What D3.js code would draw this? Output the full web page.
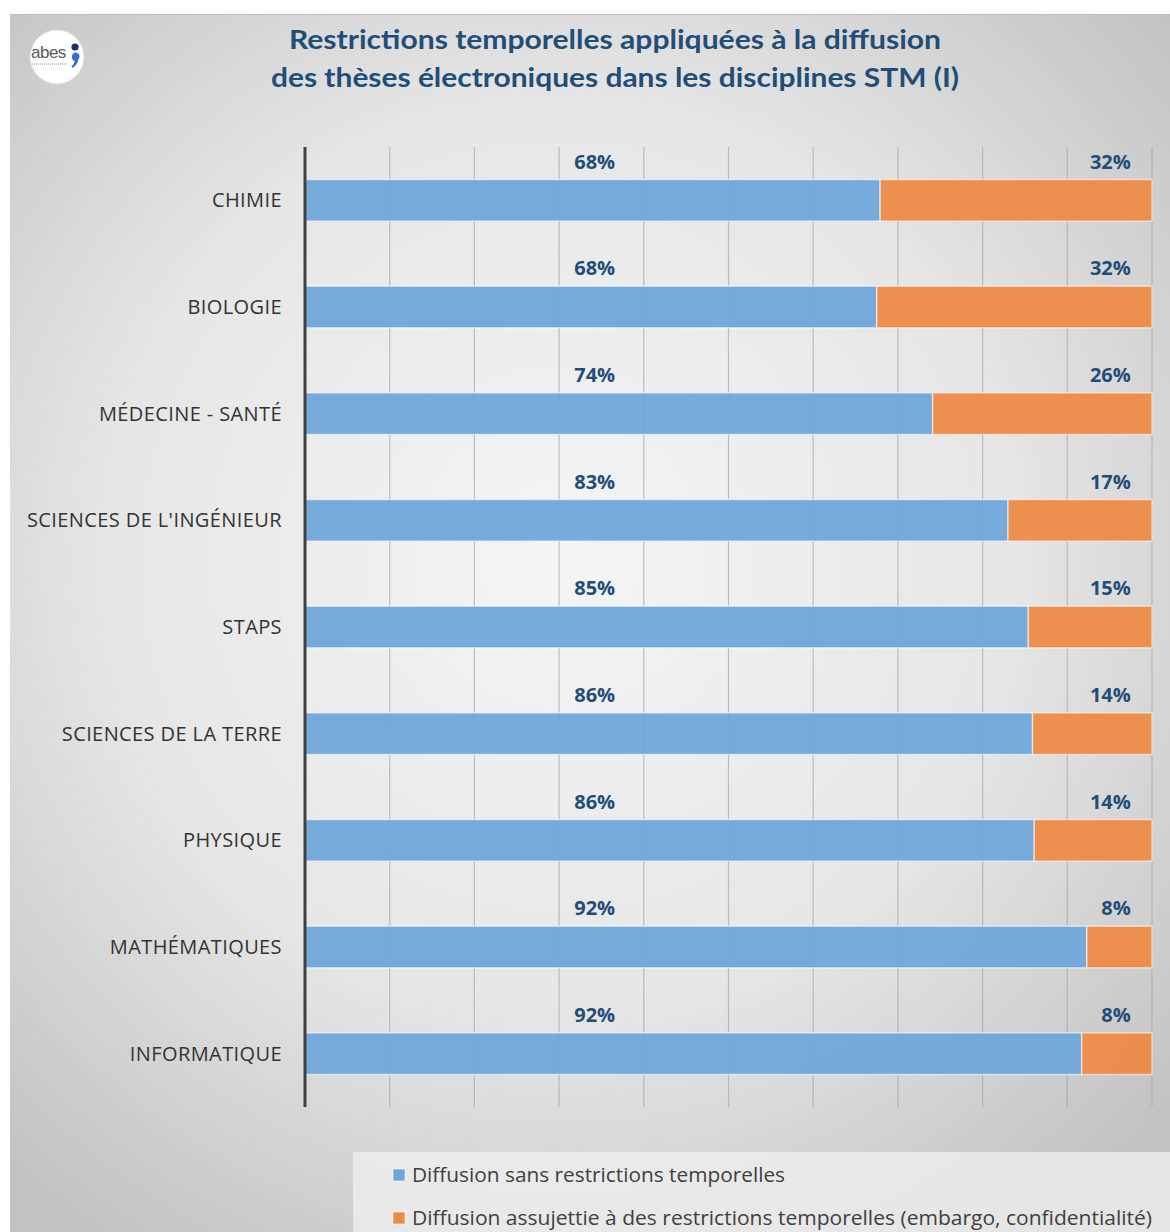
<!DOCTYPE html>
<html><head><meta charset="utf-8">
<script src="https://cdn.jsdelivr.net/npm/d3@7"></script>
<style>html,body{margin:0;padding:0;background:#fff;}svg{display:block;}</style>
</head><body>
<script>
const categories = ["CHIMIE","BIOLOGIE","MÉDECINE - SANTÉ","SCIENCES DE L'INGÉNIEUR","STAPS","SCIENCES DE LA TERRE","PHYSIQUE","MATHÉMATIQUES","INFORMATIQUE"];
const sansRestriction = [67.9, 67.5, 74.1, 83.0, 85.4, 85.9, 86.1, 92.3, 91.7];
const avecRestriction = [32.1, 32.5, 25.9, 17.0, 14.6, 14.1, 13.9, 7.7, 8.3];
const labelsSans = ["68%","68%","74%","83%","85%","86%","86%","92%","92%"];
const labelsAvec = ["32%","32%","26%","17%","15%","14%","14%","8%","8%"];
const seriesNames = ["Diffusion sans restrictions temporelles","Diffusion assujettie à des restrictions temporelles (embargo, confidentialité)"];
const xTicks = [0,10,20,30,40,50,60,70,80,90,100];
const titleLines = ["Restrictions temporelles appliquées à la diffusion","des thèses électroniques dans les disciplines STM (I)"];

const W = 1170, H = 1232;
const colors = ["#6fa6da","#ec8a47"];
const svg = d3.select("body").append("svg").attr("width",W).attr("height",H);
const defs = svg.append("defs");
const rg = defs.append("radialGradient").attr("id","bg").attr("gradientUnits","userSpaceOnUse")
  .attr("cx",560).attr("cy",560).attr("r",820);
rg.append("stop").attr("offset","0").attr("stop-color","#f5f5f5");
rg.append("stop").attr("offset","0.55").attr("stop-color","#e6e6e6");
rg.append("stop").attr("offset","1").attr("stop-color","#c2c2c2");

svg.append("rect").attr("x",10).attr("y",14).attr("width",W-10).attr("height",H-14).attr("fill","url(#bg)");
svg.append("line").attr("x1",10).attr("x2",W).attr("y1",14.5).attr("y2",14.5).attr("stroke","#bdbdbd").attr("stroke-width",1);

// logo
const logo = svg.append("g").attr("transform","translate(57,57)");
logo.append("circle").attr("r",27).attr("fill","#fff").attr("stroke","#e0e0e0").attr("stroke-width",1);
logo.append("text").attr("x",-26).attr("y",1).attr("font-family","Liberation Sans Narrow, Liberation Sans, sans-serif").attr("font-size",17).attr("fill","#5a5a5a").attr("letter-spacing",-0.5).text("abes");
logo.append("line").attr("x1",-25).attr("x2",10).attr("y1",7).attr("y2",7).attr("stroke","#bbb").attr("stroke-width",1.5).attr("stroke-dasharray","1,1");
logo.append("circle").attr("cx",18).attr("cy",-10).attr("r",3.6).attr("fill","#1c2f6b");
logo.append("path").attr("d","M15,-1 a3.8,3.8 0 1 1 6.5,3 q-1,6 -6,9 l-1,-1.5 q3,-3 3.2,-5.5 a3.8,3.8 0 0 1 -2.7,-5z").attr("fill","#2e6fd6");

// title
svg.append("g").selectAll("text").data(titleLines).join("text")
  .attr("x",615).attr("y",(d,i)=>49+i*38).attr("text-anchor","middle")
  .attr("font-family","Lato, sans-serif").attr("font-weight","bold").attr("font-size",27)
  .attr("fill","#1f4e79").text(d=>d)
  .attr("textLength",(d,i)=>i===0?652:688).attr("lengthAdjust","spacingAndGlyphs");

const x = d3.scaleLinear().domain([0,100]).range([305,1152]);
const y = d3.scaleBand().domain(categories).range([147,1107]).paddingInner(0.61).paddingOuter(0.305);

// gridlines
svg.append("g").selectAll("line").data(xTicks.slice(1)).join("line")
  .attr("x1",d=>x(d)).attr("x2",d=>x(d)).attr("y1",147).attr("y2",1107)
  .attr("stroke","#a8a8a8").attr("stroke-opacity",0.7).attr("stroke-width",1.2);

// bars
const stacked = categories.map((c,i)=>[{c,i,s:0,x0:0,x1:sansRestriction[i]},{c,i,s:1,x0:sansRestriction[i],x1:sansRestriction[i]+avecRestriction[i]}]).flat();
svg.append("g").selectAll("rect").data(stacked).join("rect")
  .attr("x",d=>x(d.x0)).attr("width",d=>x(Math.min(d.x1,100))-x(d.x0))
  .attr("y",d=>y(d.c)).attr("height",y.bandwidth())
  .attr("fill",d=>colors[d.s]).attr("fill-opacity",0.95)
  .attr("stroke","#fff").attr("stroke-opacity",0.55).attr("stroke-width",1.5);

// axis line
svg.append("line").attr("x1",305).attr("x2",305).attr("y1",147).attr("y2",1107).attr("stroke","#404040").attr("stroke-width",3);

// category labels
svg.append("g").selectAll("text").data(categories).join("text")
  .attr("x",282).attr("y",d=>y(d)+y.bandwidth()/2).attr("dy","0.35em").attr("text-anchor","end")
  .attr("font-family","Open Sans, sans-serif").attr("font-size",20).attr("letter-spacing",0.4).attr("fill","#333").text(d=>d);

// value labels
svg.append("g").selectAll("text").data(labelsSans).join("text")
  .attr("x",x(34.2)).attr("y",(d,i)=>y(categories[i])-11).attr("text-anchor","middle")
  .attr("font-family","Open Sans, sans-serif").attr("font-weight","bold").attr("font-size",20).attr("fill","#1f4e79").text(d=>d);
svg.append("g").selectAll("text").data(labelsAvec).join("text")
  .attr("x",x(97.5)).attr("y",(d,i)=>y(categories[i])-11).attr("text-anchor","end")
  .attr("font-family","Open Sans, sans-serif").attr("font-weight","bold").attr("font-size",20).attr("fill","#1f4e79").text(d=>d);

// legend
svg.append("rect").attr("x",353).attr("y",1152).attr("width",W-353).attr("height",H-1152).attr("fill","#f0f0f0").attr("fill-opacity",0.75);
const lg = svg.append("g").selectAll("g").data(seriesNames).join("g")
  .attr("transform",(d,i)=>`translate(393,${1175+i*43})`);
lg.append("rect").attr("x",0).attr("y",-6).attr("width",12).attr("height",12).attr("fill",(d,i)=>colors[i]).attr("stroke","#fff").attr("stroke-opacity",0.6);
lg.append("text").attr("x",19).attr("dy","0.35em").attr("font-family","Open Sans, sans-serif").attr("font-size",20).attr("fill","#404040").text(d=>d)
  .attr("textLength",(d,i)=>i===0?373:740).attr("lengthAdjust","spacingAndGlyphs");
</script>
</body></html>
